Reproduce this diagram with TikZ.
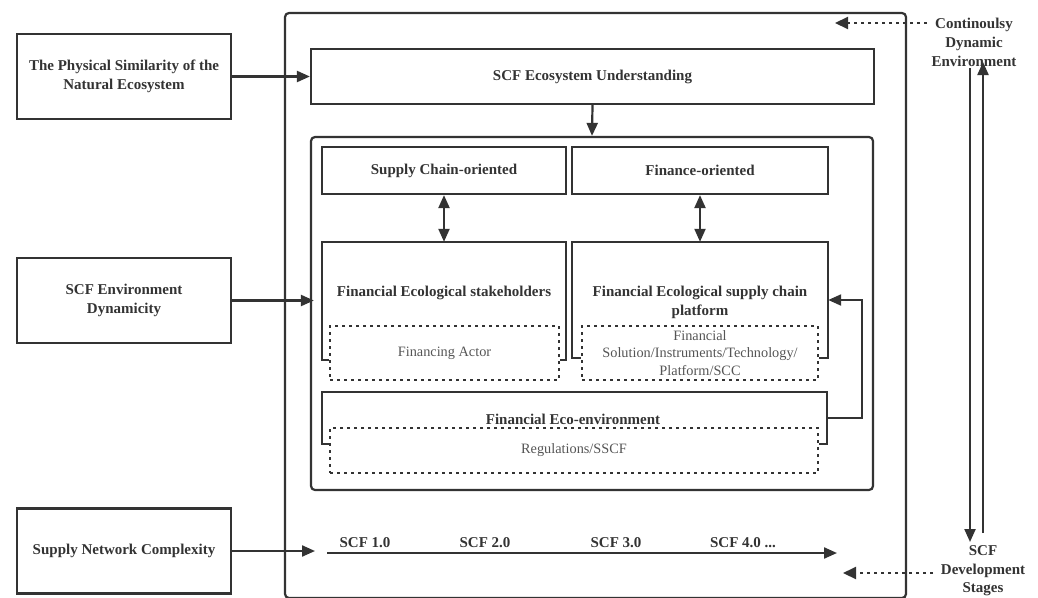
\documentclass[tikz,border=0pt]{standalone}
\usepackage{fontspec}
\setmainfont{Liberation Serif}
\usetikzlibrary{arrows.meta,calc}
\definecolor{ink}{HTML}{333333}
\definecolor{soft}{HTML}{555555}
\tikzset{
  box/.style={draw=ink,line width=2.2pt,inner sep=0pt,align=center,text=ink,font=\bfseries\fontsize{15}{19}\selectfont},
  frame/.style={inner sep=0pt},
  dotbox/.style={draw=ink,line width=2.2pt,dash pattern=on 3pt off 4pt,inner sep=0pt,align=center,text=soft,font=\fontsize{14.3}{17.5}\selectfont},
  lbl/.style={inner sep=0pt,align=center,text=ink,font=\bfseries\fontsize{15}{19}\selectfont},
  edge/.style={draw=ink,line width=2.2pt},
  arr/.style={edge,-{Triangle[length=13pt,width=11pt]}},
  darr/.style={edge,{Triangle[length=13pt,width=11pt]}-{Triangle[length=13pt,width=11pt]}},
  dotarr/.style={draw=ink,line width=2.2pt,dash pattern=on 3pt off 4pt,-{Triangle[length=13pt,width=12pt]}},
}
\begin{document}
\begin{tikzpicture}[x=1pt,y=-1pt]
\useasboundingbox (0,0) rectangle (1038,597);
% outer containers
\draw[edge,rounded corners=4pt] (285,13) rectangle (906,598);
\node[frame,minimum width=621pt,minimum height=585pt] (outer) at (595.5,305.5) {};
% left inputs
\node[box,minimum width=214pt,minimum height=85pt] (phys) at (124,76.5) {The Physical Similarity of the\\Natural Ecosystem};
\node[box,minimum width=214pt,minimum height=85pt] (envdyn) at (124,300.5) {SCF Environment\\Dynamicity};
\node[box,minimum width=214pt,minimum height=85pt] (snc) at (124,551) {Supply Network Complexity};
% understanding
\node[box,minimum width=563pt,minimum height=55pt] (ecou) at (592.5,76.5) {SCF Ecosystem Understanding};
% inner rounded box
\node[draw=ink,line width=2.2pt,rounded corners=4pt,inner sep=0pt,minimum width=562pt,minimum height=353pt] (inner) at (592,313.5) {};
% orientation boxes
\node[box,minimum width=244pt,minimum height=47pt] (sco) at (444,170.5) {Supply Chain-oriented};
\node[box,minimum width=256pt,minimum height=47pt] (fo) at (700,170.5) {Finance-oriented};
% stakeholders
\node[frame,minimum width=244pt,minimum height=118pt] (stake) at (444,301) {};
\node[dotbox,minimum width=229pt,minimum height=54pt] (stakeD) at (444.5,353) {Financing Actor};
\node[lbl] (stakeT) at (444,293) {Financial Ecological stakeholders};
\draw[edge] (stakeD.west |- stake.south) -- (stake.south west) -- (stake.north west) -- (stake.north east) -- (stake.south east) -- (stakeD.east |- stake.south);
% platform
\node[frame,minimum width=256pt,minimum height=116pt] (plat) at (700,300) {};
\node[dotbox,minimum width=236pt,minimum height=54pt] (platD) at (700,353) {Financial\\Solution/Instruments/Technology/\\Platform/SCC};
\node[lbl] (platT) at (700,302) {Financial Ecological supply chain\\platform};
\draw[edge] (platD.west |- plat.south) -- (plat.south west) -- (plat.north west) -- (plat.north east) -- (plat.south east) -- (platD.east |- plat.south);
% eco-environment
\node[frame,minimum width=505pt,minimum height=52pt] (eco) at (574.5,418) {};
\node[dotbox,minimum width=488pt,minimum height=45pt] (ecoD) at (574,450.5) {Regulations/SSCF};
\node[lbl] (ecoT) at (573,419) {Financial Eco-environment};
\draw[edge] (ecoD.west |- eco.south) -- (eco.south west) -- (eco.north west) -- (eco.north east) -- (eco.south east) -- (ecoD.east |- eco.south);
% timeline
\coordinate (tl0) at (327,553);
\coordinate (tl1) at (837,553);
\node[lbl] (s1) at (365,543) {SCF 1.0};
\node[lbl] (s2) at (485,543) {SCF 2.0};
\node[lbl] (s3) at (616,543) {SCF 3.0};
\node[lbl] (s4) at (743,543) {SCF 4.0 ...};
% right labels
\node[lbl] (cde) at (974,42) {Continoulsy\\Dynamic\\Environment};
\node[lbl,font=\bfseries\fontsize{15}{18.5}\selectfont] (sds) at (983,571) {SCF\\Development\\Stages};
\coordinate (cdeTip) at (835,23);
\coordinate (cdeStart) at (927,23);
\coordinate (sdsTip) at (843,573);
\coordinate (sdsStart) at (933,573);
\coordinate (v1top) at (970,68);
\coordinate (v1bot) at (970,542);
\coordinate (v2bot) at (983,533);
\coordinate (v2top) at (983,62);
% connectors
\draw[arr] (phys.east) -- (phys.east -| ecou.west);
\draw[arr] (ecou.south) -- (inner.north);
\draw[arr] (envdyn.east) -- ($(envdyn.east -| inner.west)+(4,0)$);
\draw[arr,shorten >=12pt] (snc.east) -- (snc.east -| tl0);
\draw[arr] (tl0) -- (tl1);
\draw[darr] (sco.south) -- (stake.north);
\draw[darr] (fo.south) -- (plat.north);
\draw[arr] (eco.east) -- ++(35,0) |- (plat.east);
\draw[dotarr] (cdeStart) -- (cdeTip);
\draw[dotarr] (sdsStart) -- (sdsTip);
\draw[arr] (v1top) -- (v1bot);
\draw[arr] (v2bot) -- (v2top);
\end{tikzpicture}
\end{document}
